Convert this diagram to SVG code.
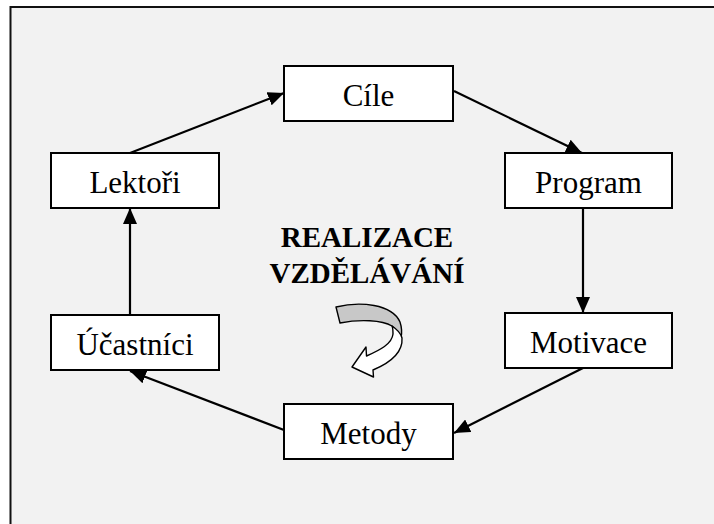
<svg xmlns="http://www.w3.org/2000/svg" width="714" height="524" viewBox="0 0 714 524">
<defs>
<style>
.box{fill:#fff;stroke:#000;stroke-width:2}
.lbl{font-family:"Liberation Serif","Times New Roman",serif;font-size:31px;text-anchor:middle;fill:#000}
.ttl{font-family:"Liberation Serif","Times New Roman",serif;font-size:29px;font-weight:bold;text-anchor:middle;fill:#000}
.con{stroke:#000;stroke-width:2.2;fill:none;marker-end:url(#ah)}
</style>
<marker id="ah" markerUnits="userSpaceOnUse" markerWidth="16" markerHeight="14" refX="16" refY="7" orient="auto">
<path d="M0,0 L16,7 L0,14 Z" fill="#000"/>
</marker>
</defs>
<rect x="0" y="0" width="714" height="524" fill="#fff"/>
<rect x="10.5" y="7" width="720" height="530" fill="#f2f2f2" stroke="#111" stroke-width="2"/>
<g id="connectors">
<line class="con" x1="130" y1="153" x2="284" y2="93"/>
<line class="con" x1="454" y1="91" x2="582" y2="153"/>
<line class="con" x1="583" y1="208" x2="583" y2="313"/>
<line class="con" x1="583" y1="368" x2="454" y2="433"/>
<line class="con" x1="284" y1="430" x2="130" y2="371"/>
<line class="con" x1="130" y1="315" x2="130" y2="208"/>
</g>
<g id="cile"><rect class="box" x="284" y="66" width="169" height="55"/><text class="lbl" x="368.5" y="106">Cíle</text></g>
<g id="program"><rect class="box" x="505" y="153" width="167" height="55"/><text class="lbl" x="588.5" y="193">Program</text></g>
<g id="motivace"><rect class="box" x="505" y="313" width="167" height="55"/><text class="lbl" x="588.5" y="353">Motivace</text></g>
<g id="metody"><rect class="box" x="284" y="404" width="169" height="55"/><text class="lbl" x="368.5" y="444">Metody</text></g>
<g id="ucastnici"><rect class="box" x="51" y="315" width="168" height="55"/><text class="lbl" x="135" y="355">Účastníci</text></g>
<g id="lektori"><rect class="box" x="51" y="153" width="168" height="55"/><text class="lbl" x="135" y="193">Lektoři</text></g>
<g id="title">
<text class="ttl" x="367" y="247">REALIZACE</text>
<text class="ttl" x="367" y="283">VZDĚLÁVÁNÍ</text>
</g>
<g id="curl" stroke="#000" stroke-width="1.4" stroke-linejoin="round">
<path fill="#c8c8c8" d="M336,307 C360,301 392,304 400,322 C402,328 402,333 401,338 C398,332 395,328 392,326 C382,320 360,319 340,323 Z"/>
<path fill="#fff" d="M392,326 C398,330 401,334 402,338 C403,352 392,362 373,370 L373.5,377 L352,367 L366,347 L366.5,356 C380,350 392,344 393,334 C393,331 393,328 392,326 Z"/>
</g>
</svg>
